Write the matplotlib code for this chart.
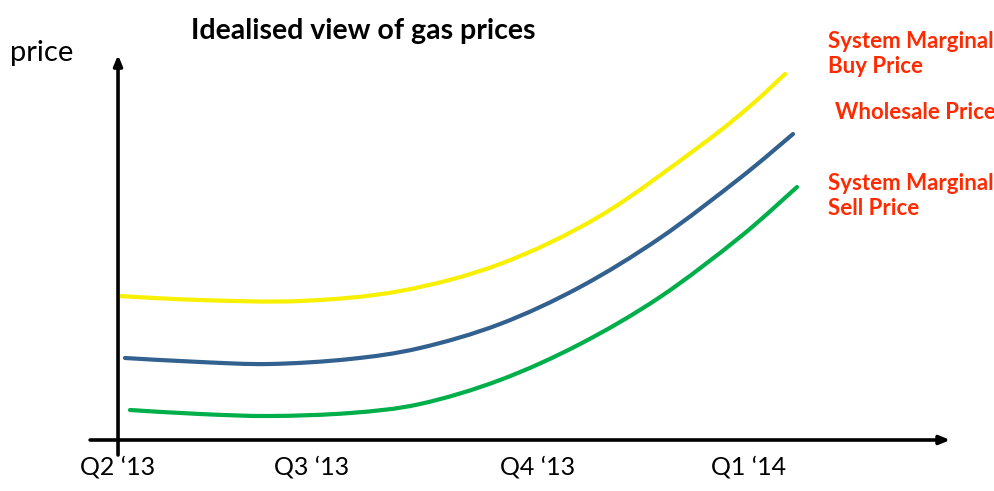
import matplotlib
matplotlib.use("Agg")
import matplotlib.pyplot as plt
import numpy as np
from matplotlib.path import Path
from matplotlib.patches import PathPatch

# ---- data (x in quarters from Q2 '13, price in arbitrary units) ----
quarter_labels = ["Q2 \u201813", "Q3 \u201813", "Q4 \u201813", "Q1 \u201814"]
quarter_pos = [0.0, 0.92, 2.0, 3.0]

buy_x = [0.0, 0.390, 0.867, 1.343, 1.819, 2.295, 2.771, 3.010, 3.176]
buy_y = [14.4, 14.0, 13.9, 14.9, 17.6, 22.4, 29.4, 33.4, 36.6]

wholesale_x = [0.033, 0.390, 0.724, 1.105, 1.438, 1.819, 2.200, 2.581, 2.962, 3.214]
wholesale_y = [8.2, 7.8, 7.6, 8.1, 9.2, 11.6, 15.3, 20.2, 26.2, 30.6]

sell_x = [0.057, 0.390, 0.724, 1.105, 1.438, 1.819, 2.200, 2.581, 2.962, 3.233]
sell_y = [3.0, 2.6, 2.4, 2.7, 3.6, 6.0, 9.6, 14.3, 20.3, 25.3]

series_labels = ["System Marginal\nBuy Price", "Wholesale Price", "System Marginal\nSell Price"]
series_colors = ["#F7F000", "#32608F", "#00AE4A"]

FONT = ["Lato", "DejaVu Sans"]
RED = "#FF2A00"


def smooth_path(xs, ys):
    """Catmull-Rom spline through the points, expressed as cubic Bezier path."""
    pts = np.column_stack([xs, ys]).astype(float)
    n = len(pts)
    verts = [pts[0]]
    codes = [Path.MOVETO]
    for i in range(n - 1):
        p0 = pts[i - 1] if i > 0 else pts[i]
        p1 = pts[i]
        p2 = pts[i + 1]
        p3 = pts[i + 2] if i + 2 < n else pts[i + 1]
        c1 = p1 + (p2 - p0) / 6.0
        c2 = p2 - (p3 - p1) / 6.0
        verts += [c1, c2, p2]
        codes += [Path.CURVE4] * 3
    return Path(verts, codes)


fig = plt.figure(figsize=(9.94, 4.91), dpi=100)
ax = fig.add_axes([0, 0, 1, 1])
ax.set_xlim(-0.562, 4.171)
ax.set_ylim(-5.1, 44.0)
ax.axis("off")

# axes arrows
ax.annotate("", xy=(3.962, 0), xytext=(-0.133, 0),
            arrowprops=dict(arrowstyle="-|>,head_length=0.6,head_width=0.25", color="black", lw=2.6,
                            shrinkA=0, shrinkB=0))
ax.annotate("", xy=(0, 38.5), xytext=(0, -1.5),
            arrowprops=dict(arrowstyle="-|>,head_length=0.6,head_width=0.25", color="black", lw=2.6,
                            shrinkA=0, shrinkB=0))

# curves
for xs, ys, c in [(buy_x, buy_y, series_colors[0]),
                  (wholesale_x, wholesale_y, series_colors[1]),
                  (sell_x, sell_y, series_colors[2])]:
    patch = PathPatch(smooth_path(xs, ys), facecolor="none", edgecolor=c, lw=3.0,
                      capstyle="round", joinstyle="round")
    ax.add_patch(patch)

# tick labels
for p, lab in zip(quarter_pos, quarter_labels):
    ax.text(p, -2.7, lab, ha="center", va="center", fontsize=18, family=FONT)

# texts
fig.text(10 / 994, 1 - 53 / 491, "price", ha="left", va="center", fontsize=21, family=FONT)
fig.text(363 / 994, 1 - 31 / 491, "Idealised view of gas prices", ha="center", va="center",
         fontsize=20.5, fontweight="bold", family=FONT)

fig.text(828 / 994, 1 - 54 / 491, series_labels[0], ha="left", va="center", fontsize=16,
         fontweight="bold", color=RED, family=FONT, linespacing=1.2)
fig.text(835 / 994, 1 - 112 / 491, series_labels[1], ha="left", va="center", fontsize=16,
         fontweight="bold", color=RED, family=FONT)
fig.text(828 / 994, 1 - 196 / 491, series_labels[2], ha="left", va="center", fontsize=16,
         fontweight="bold", color=RED, family=FONT, linespacing=1.2)

fig.savefig("out.png", dpi=100)
